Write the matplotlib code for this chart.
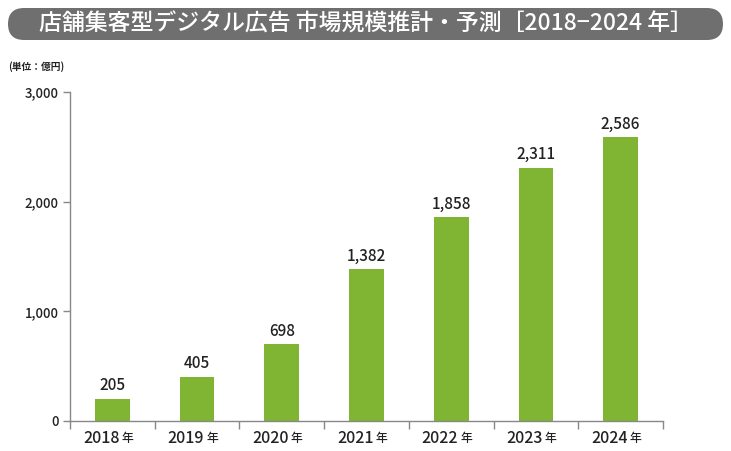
import matplotlib
matplotlib.use("Agg")
import matplotlib.pyplot as plt
import matplotlib.transforms as mtransforms
from matplotlib.patches import FancyBboxPatch

plt.rcParams['font.family'] = ['Noto Sans CJK JP', 'DejaVu Sans']

years = ["2018", "2019", "2020", "2021", "2022", "2023", "2024"]
year_suffix = "年"
values = [205, 405, 698, 1382, 1858, 2311, 2586]
yticks = [0, 1000, 2000, 3000]
ytick_labels = ["0", "1,000", "2,000", "3,000"]
title = "店舗集客型デジタル広告 市場規模推計・予測［2018−2024 年］"
unit = "(単位：億円)"

W, H = 731, 451
fig = plt.figure(figsize=(W/100, H/100), dpi=100)
fig.patch.set_facecolor("white")

# title banner
box = FancyBboxPatch((8/W, 1-40/H), (723-8)/W, 32/H,
                     boxstyle="round,pad=0,rounding_size=0.022",
                     transform=fig.transFigure, facecolor="#6f6f6f",
                     edgecolor="none", mutation_aspect=W/H)
fig.patches.append(box)
fig.text(366/W, 1-24/H, title, color="white", fontsize=16.5,
         ha="center", va="center", fontweight="medium")
fig.text(8/W, 1-67/H, unit, fontsize=7, ha="left", va="center",
         color="#222222", fontweight="bold")

ax = fig.add_axes([70/W, 30/H, (663-70)/W, (421-92)/H])
x = list(range(len(years)))
ax.bar(x, values, width=0.41, color="#7fb532")
for xi, v in zip(x, values):
    ax.text(xi, v + 40, f"{v:,}", ha="center", va="bottom", fontsize=11,
            color="#222222", fontweight="medium")

ax.set_xlim(-0.5, len(years) - 0.5)
ax.set_ylim(0, 3000)
ax.set_yticks(yticks)
ax.set_yticklabels(ytick_labels, fontsize=9.5, color="#222222", fontweight="medium")
ax.set_xticks(x)
ax.set_xticklabels([])
ax.tick_params(axis="x", length=0)
ax.set_xticks([i - 0.5 for i in range(len(years) + 1)], minor=True)
ax.tick_params(axis="x", which="minor", length=6, color="#888888", width=1)
ax.tick_params(axis="y", length=5, color="#888888", width=1, pad=3)
for s in ["top", "right"]:
    ax.spines[s].set_visible(False)
for s in ["left", "bottom"]:
    ax.spines[s].set_color("#888888")
    ax.spines[s].set_linewidth(1)

trans = mtransforms.blended_transform_factory(ax.transData, ax.transAxes)
off_l = mtransforms.offset_copy(trans, fig=fig, x=7, y=0, units="dots")
off_r = mtransforms.offset_copy(trans, fig=fig, x=9, y=0, units="dots")
for xi, yr in zip(x, years):
    ax.text(xi, -0.052, yr, transform=off_l, ha="right", va="center",
            fontsize=11.5, color="#222222", fontweight="medium")
    ax.text(xi, -0.054, year_suffix, transform=off_r, ha="left", va="center",
            fontsize=8.5, color="#222222", fontweight="medium")

fig.savefig("out.png", dpi=100)
